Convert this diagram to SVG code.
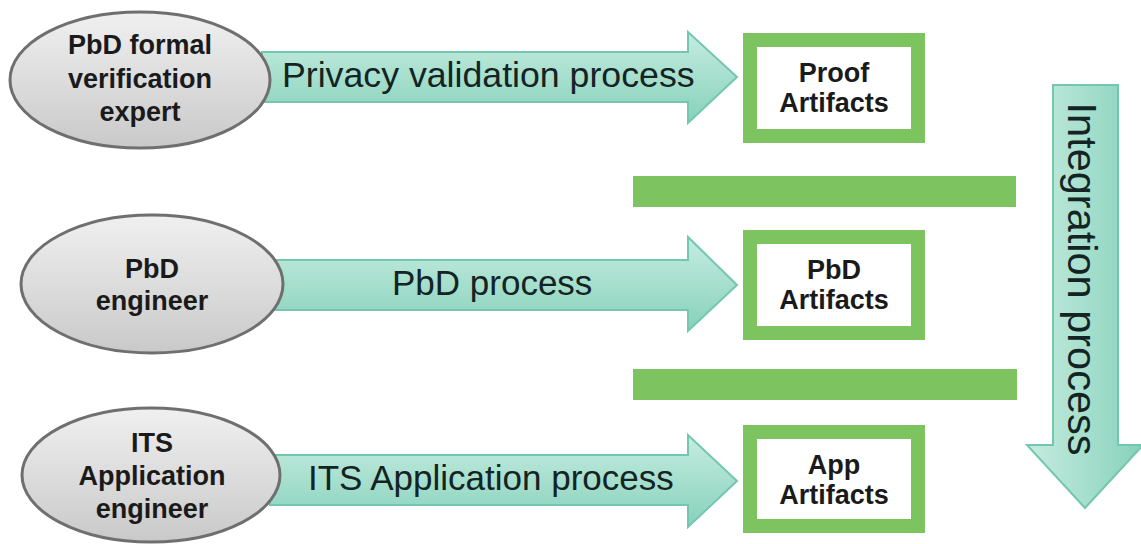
<svg xmlns="http://www.w3.org/2000/svg" width="1141" height="544" viewBox="0 0 1141 544">
  <defs>
    <linearGradient id="arrH" x1="0" y1="0" x2="0" y2="1">
      <stop offset="0" stop-color="#c6ece0"/>
      <stop offset="0.5" stop-color="#a6dfcd"/>
      <stop offset="1" stop-color="#86d1ba"/>
    </linearGradient>
    <linearGradient id="arrV" x1="0" y1="0" x2="1" y2="0">
      <stop offset="0" stop-color="#c6ece0"/>
      <stop offset="0.5" stop-color="#a6dfcd"/>
      <stop offset="1" stop-color="#86d1ba"/>
    </linearGradient>
    <linearGradient id="ell" x1="0" y1="0" x2="0" y2="1">
      <stop offset="0" stop-color="#f0f0f0"/>
      <stop offset="1" stop-color="#c9c9c9"/>
    </linearGradient>
  </defs>
  <style>
    .arrow { stroke: #72c7ae; stroke-width: 2; stroke-linejoin: miter; }
    .plabel { font-family: "Liberation Sans", Arial, sans-serif; font-size: 35px; fill: #142424; }
    .actor { fill: url(#ell); stroke: #6f6f6f; stroke-width: 3; }
    .alabel { font-family: "Liberation Sans", Arial, sans-serif; font-size: 27px; font-weight: bold; fill: #1a1a1a; text-anchor: middle; }
    .artifact { fill: #ffffff; stroke: #7dc35f; stroke-width: 14; }
    .bar { fill: #7dc35f; }
  </style>
  <rect x="0" y="0" width="1141" height="544" fill="#ffffff"/>

  <g id="connectors">
    <g id="arrow-privacy">
      <path class="arrow" fill="url(#arrH)" d="M 262 52 L 688 52 L 688 32 L 737 77 L 688 123 L 688 102 L 262 102 Z"/>
      <text class="plabel" x="282" y="87" style="font-size:35.7px">Privacy validation process</text>
    </g>
    <g id="arrow-pbd">
      <path class="arrow" fill="url(#arrH)" d="M 270 260 L 688 260 L 688 237 L 737 285 L 688 331 L 688 310 L 270 310 Z"/>
      <text class="plabel" x="392" y="295">PbD process</text>
    </g>
    <g id="arrow-its">
      <path class="arrow" fill="url(#arrH)" d="M 270 455 L 688 455 L 688 435 L 737 481 L 688 527 L 688 505 L 270 505 Z"/>
      <text class="plabel" x="308" y="490">ITS Application process</text>
    </g>
    <g id="arrow-integration">
      <path class="arrow" fill="url(#arrV)" d="M 1053 85 L 1118 85 L 1118 445 L 1143 445 L 1085 508 L 1027 445 L 1053 445 Z"/>
      <text class="plabel" text-anchor="middle" transform="translate(1068 279) rotate(90)" style="font-size:41.5px">Integration process</text>
    </g>
  </g>

  <g id="node-expert">
    <ellipse class="actor" cx="140" cy="80" rx="130" ry="68"/>
    <text class="alabel" x="140" y="54">PbD formal</text>
    <text class="alabel" x="140" y="88">verification</text>
    <text class="alabel" x="140" y="121">expert</text>
  </g>
  <g id="node-pbd-engineer">
    <ellipse class="actor" cx="152" cy="284" rx="131" ry="69"/>
    <text class="alabel" x="152" y="278">PbD</text>
    <text class="alabel" x="152" y="310">engineer</text>
  </g>
  <g id="node-its-engineer">
    <ellipse class="actor" cx="151" cy="475" rx="129" ry="67"/>
    <text class="alabel" x="152" y="452">ITS</text>
    <text class="alabel" x="152" y="485">Application</text>
    <text class="alabel" x="152" y="518">engineer</text>
  </g>

  <g id="node-proof-artifacts">
    <rect class="artifact" x="750" y="40" width="168" height="96"/>
    <text class="alabel" x="834" y="82">Proof</text>
    <text class="alabel" x="834" y="112">Artifacts</text>
  </g>
  <g id="node-pbd-artifacts">
    <rect class="artifact" x="750" y="237" width="168" height="96"/>
    <text class="alabel" x="834" y="279">PbD</text>
    <text class="alabel" x="834" y="309">Artifacts</text>
  </g>
  <g id="node-app-artifacts">
    <rect class="artifact" x="750" y="432" width="168" height="94"/>
    <text class="alabel" x="834" y="474">App</text>
    <text class="alabel" x="834" y="504">Artifacts</text>
  </g>

  <g id="separator-1">
    <rect class="bar" x="633" y="176" width="383" height="31"/>
  </g>
  <g id="separator-2">
    <rect class="bar" x="633" y="369" width="384" height="31"/>
  </g>
</svg>
